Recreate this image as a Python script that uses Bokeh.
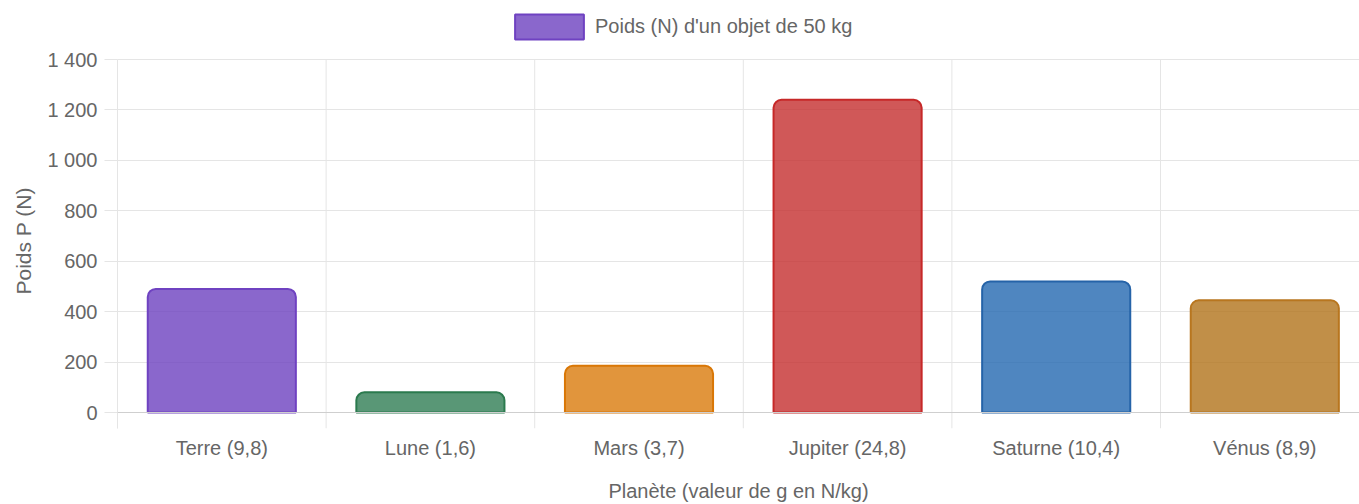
from bokeh.plotting import figure
from bokeh.models import (ColumnDataSource, Range1d, FixedTicker, Span, Legend, LegendItem, Title)
from bokeh.embed import file_html
from bokeh.resources import INLINE

# ---- data ----
planets = ["Terre (9,8)", "Lune (1,6)", "Mars (3,7)", "Jupiter (24,8)", "Saturne (10,4)", "Vénus (8,9)"]
weights = [490, 80, 185, 1240, 520, 445]
fill_colors = ["#6d41bf", "#2f7d54", "#d97a0b", "#c42e2e", "#2368b0", "#b2731a"]
line_colors = ["#6f42c1", "#2b7a4e", "#d97706", "#c62828", "#2563a8", "#b8761f"]
y_ticks = [0, 200, 400, 600, 800, 1000, 1200, 1400]
y_tick_labels = ["0", "200", "400", "600", "800", "1 000", "1 200", "1 400"]
legend_label = "Poids (N) d'un objet de 50 kg"
x_title = "Planète (valeur de g en N/kg)"
y_title = "Poids P (N)"

FONT = "Liberation Sans"
TXT = "#666666"
GRID = "#e5e5e5"

n = len(planets)
xs = [i + 0.5 for i in range(n)]
src = ColumnDataSource(dict(x=xs, top=weights, fill=fill_colors, line=line_colors))

# frame: page x 117..1359, y 0..428 ; 1400 at page y 59, 0 at page y 412
px_per_unit = (412 - 59) / 1400.0
y_start = -(428 - 412) / px_per_unit
y_top = y_ticks[-1]
y_end = y_top + 59 / px_per_unit
cat_w = (1160 - 117) / 5.0
x_end = (1359 - 117) / cat_w

p = figure(width=1359, height=504, output_backend="svg", toolbar_location=None,
           x_range=Range1d(0, x_end), y_range=Range1d(y_start, y_end),
           min_border_left=117, min_border_right=0, min_border_top=0, min_border_bottom=76)
p.outline_line_color = None
p.background_fill_color = "white"
p.border_fill_color = "white"

# grids
p.xgrid.grid_line_color = None
bounds = list(range(n + 1))
p.segment(x0=bounds, y0=[y_start] * len(bounds), x1=bounds, y1=[y_top] * len(bounds),
          line_color=GRID, line_width=1)
p.ygrid.ticker = FixedTicker(ticks=y_ticks)
p.ygrid.grid_line_color = GRID

# zero line
p.add_layout(Span(location=0, dimension="width", line_color="#cfcfcf", line_width=1))

r = p.vbar(x="x", top="top", bottom=0, width=0.71, source=src,
           fill_color="fill", fill_alpha=0.8, line_color="line", line_width=2,
           border_radius=(8, 8, 0, 0))

# x axis
xa = p.xaxis[0]
xa.ticker = FixedTicker(ticks=xs)
xa.major_label_overrides = {x: lab for x, lab in zip(xs, planets)}
xa.major_tick_line_color = None
xa.minor_tick_line_color = None
xa.axis_line_color = None
xa.major_label_text_font = FONT
xa.major_label_text_font_size = "20px"
xa.major_label_text_color = TXT
xa.major_label_standoff = 2
xa.axis_label = x_title
xa.axis_label_text_font = FONT
xa.axis_label_text_font_size = "20px"
xa.axis_label_text_font_style = "normal"
xa.axis_label_text_color = TXT
xa.axis_label_standoff = 18

# y axis
ya = p.yaxis[0]
ya.ticker = FixedTicker(ticks=y_ticks)
ya.bounds = (y_start, y_top)
ya.major_label_overrides = {v: lab for v, lab in zip(y_ticks, y_tick_labels)}
ya.major_tick_out = 13
ya.major_tick_in = 0
ya.major_tick_line_color = GRID
ya.minor_tick_line_color = None
ya.axis_line_color = GRID
ya.major_label_text_font = FONT
ya.major_label_text_font_size = "20px"
ya.major_label_text_color = TXT
ya.major_label_standoff = 7

ytitle = Title(text=y_title, align="left", offset=134,
               text_font=FONT, text_font_size="21px", text_font_style="normal",
               text_color=TXT, standoff=19)
p.add_layout(ytitle, "left")

legend = Legend(items=[LegendItem(label=legend_label, renderers=[r], index=0)],
                location=(389, 386), orientation="horizontal",
                glyph_width=86, glyph_height=31, label_standoff=3,
                label_text_font=FONT, label_text_font_size="20px", label_text_color=TXT,
                border_line_color=None, background_fill_alpha=0,
                padding=0, margin=0, spacing=0)
p.add_layout(legend, "center")

open("out.html", "w").write(file_html(p, INLINE))
